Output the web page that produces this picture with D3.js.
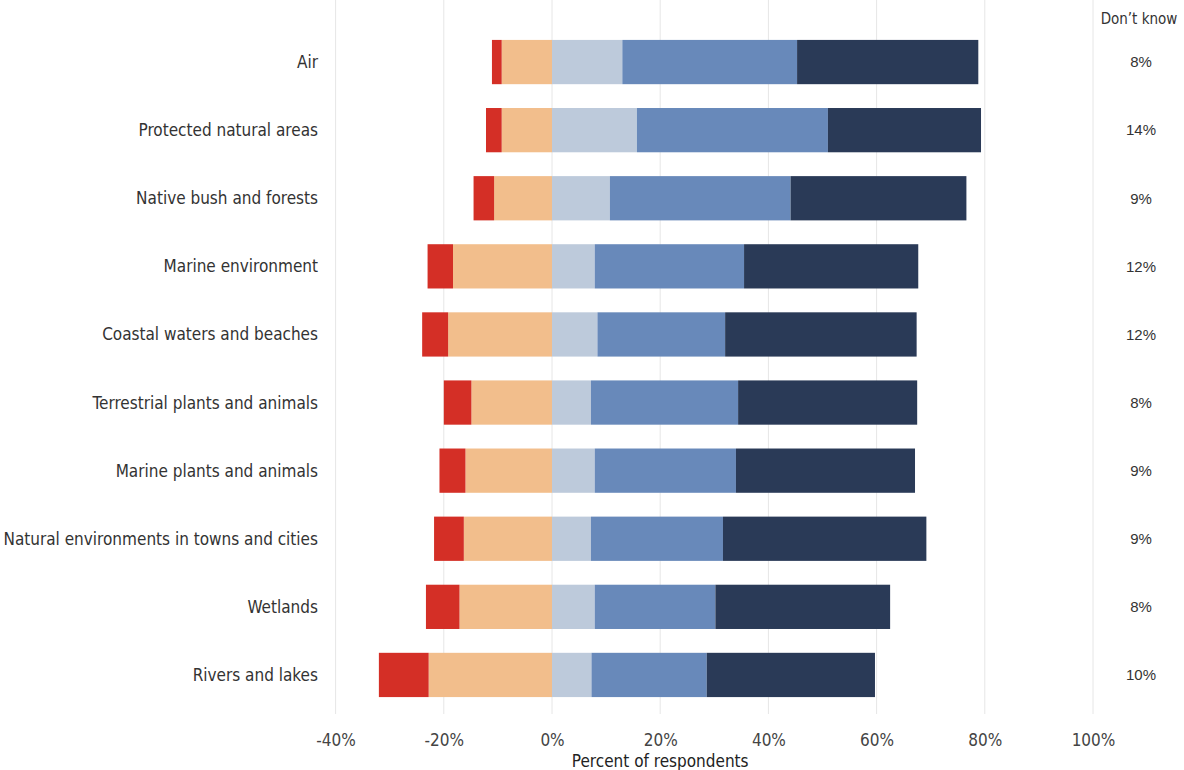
<!DOCTYPE html>
<html>
<head>
<meta charset="utf-8">
<script src="https://cdn.jsdelivr.net/npm/d3@7"></script>
<style>
  html, body { margin: 0; padding: 0; background: #ffffff; }
  svg { display: block; }
</style>
</head>
<body>
<svg id="chart" width="1184" height="770"></svg>
<script>
const categories = [
  "Air",
  "Protected natural areas",
  "Native bush and forests",
  "Marine environment",
  "Coastal waters and beaches",
  "Terrestrial plants and animals",
  "Marine plants and animals",
  "Natural environments in towns and cities",
  "Wetlands",
  "Rivers and lakes"
];
// negative side (percent)
const veryNegative = [1.8, 2.9, 3.8, 4.7, 4.8, 5.1, 4.8, 5.5, 6.2, 9.2];
const negative     = [9.3, 9.3, 10.7, 18.3, 19.2, 14.9, 16.0, 16.3, 17.1, 22.8];
// positive side (percent)
const positiveLow  = [13.0, 15.7, 10.7, 7.9, 8.4, 7.2, 7.9, 7.2, 7.9, 7.3];
const positiveMid  = [32.3, 35.3, 33.4, 27.6, 23.6, 27.2, 26.1, 24.4, 22.3, 21.3];
const positiveHigh = [33.5, 28.3, 32.5, 32.2, 35.4, 33.1, 33.1, 37.6, 32.3, 31.1];
const dontKnow     = ["8%", "14%", "9%", "12%", "12%", "8%", "9%", "9%", "8%", "10%"];
const tickValues   = [-40, -20, 0, 20, 40, 60, 80, 100];

const colors = {
  veryNegative: "#d42f26",
  negative: "#f2be8c",
  positiveLow: "#bdcadb",
  positiveMid: "#6889ba",
  positiveHigh: "#2a3a57"
};

const svg = d3.select("#chart");
const condensed = "'Liberation Sans Narrow', 'DejaVu Sans Condensed', 'Arial Narrow', sans-serif";
const regular = "'Liberation Sans', Arial, sans-serif";

const x = d3.scaleLinear().domain([-40, 100]).range([335.6, 1093]);
const y = d3.scaleBand().domain(categories).range([28, 709]).paddingInner(0.35).paddingOuter(0.175);

// gridlines
svg.append("g").selectAll("line").data(tickValues).join("line")
  .attr("x1", d => x(d)).attr("x2", d => x(d))
  .attr("y1", 0).attr("y2", 714)
  .attr("stroke", "#e6e6e6").attr("stroke-width", 1);

// build segments
const rows = categories.map((c, i) => {
  const segs = [];
  segs.push({ c, x0: -negative[i], x1: 0, fill: colors.negative });
  segs.push({ c, x0: -negative[i] - veryNegative[i], x1: -negative[i], fill: colors.veryNegative });
  let acc = 0;
  [[positiveLow, colors.positiveLow], [positiveMid, colors.positiveMid], [positiveHigh, colors.positiveHigh]].forEach(([arr, col]) => {
    segs.push({ c, x0: acc, x1: acc + arr[i], fill: col });
    acc += arr[i];
  });
  return segs;
}).flat();

svg.append("g").selectAll("rect").data(rows).join("rect")
  .attr("x", d => x(d.x0))
  .attr("width", d => x(d.x1) - x(d.x0))
  .attr("y", d => y(d.c))
  .attr("height", y.bandwidth())
  .attr("fill", d => d.fill);

// category labels
svg.append("g").selectAll("text").data(categories).join("text")
  .attr("x", 318)
  .attr("y", d => y(d) + y.bandwidth() / 2)
  .attr("dy", "0.35em")
  .attr("text-anchor", "end")
  .attr("font-family", condensed)
  .attr("font-size", 17)
  .attr("fill", "#333")
  .text(d => d);

// don't know column
svg.append("text")
  .attr("x", 1139).attr("y", 24)
  .attr("text-anchor", "middle")
  .attr("font-family", condensed)
  .attr("font-size", 15)
  .attr("fill", "#333")
  .text("Don\u2019t know");

svg.append("g").selectAll("text").data(categories).join("text")
  .attr("x", 1141)
  .attr("y", (d, i) => y(d) + y.bandwidth() / 2)
  .attr("dy", "0.35em")
  .attr("text-anchor", "middle")
  .attr("font-family", regular)
  .attr("font-size", 15)
  .attr("fill", "#333")
  .text((d, i) => dontKnow[i]);

// x axis
const xAxis = d3.axisBottom(x).tickValues(tickValues).tickFormat(d => d + "%").tickSize(0).tickPadding(0);
const ax = svg.append("g").attr("transform", "translate(0,746)").call(xAxis);
ax.select(".domain").remove();
ax.selectAll("text")
  .attr("font-family", condensed)
  .attr("font-size", 17)
  .attr("fill", "#444")
  .attr("dy", "0");

svg.append("text")
  .attr("x", x(20)).attr("y", 767)
  .attr("text-anchor", "middle")
  .attr("font-family", condensed)
  .attr("font-size", 17)
  .attr("fill", "#222")
  .text("Percent of respondents");
</script>
</body>
</html>
